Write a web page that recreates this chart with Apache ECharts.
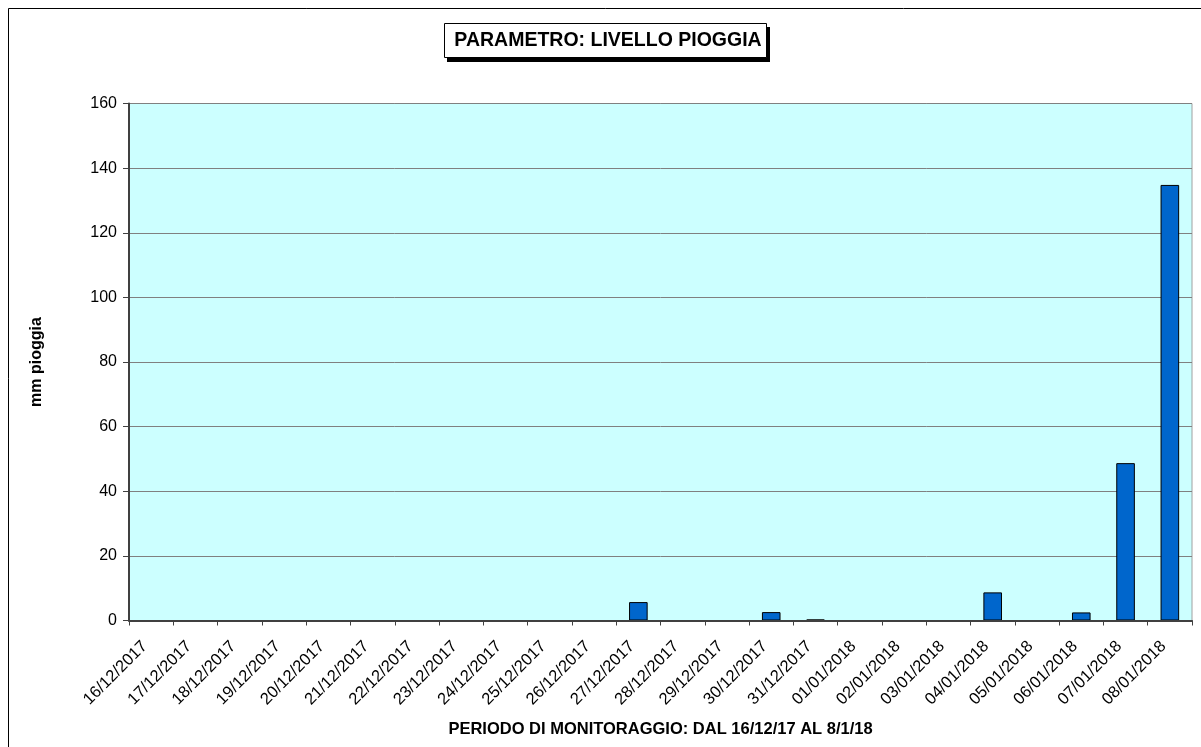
<!DOCTYPE html>
<html>
<head>
<meta charset="utf-8">
<script src="https://cdn.jsdelivr.net/npm/echarts@6/dist/echarts.min.js"></script>
<style>
  html, body { margin: 0; padding: 0; background: #fff; }
  #chart { width: 1201px; height: 747px; }
</style>
</head>
<body>
<div id="chart"></div>
<script>
const days = [
  '16/12/2017', '17/12/2017', '18/12/2017', '19/12/2017', '20/12/2017', '21/12/2017',
  '22/12/2017', '23/12/2017', '24/12/2017', '25/12/2017', '26/12/2017', '27/12/2017',
  '28/12/2017', '29/12/2017', '30/12/2017', '31/12/2017', '01/01/2018', '02/01/2018',
  '03/01/2018', '04/01/2018', '05/01/2018', '06/01/2018', '07/01/2018', '08/01/2018'
];
const rain = [
  0, 0, 0, 0, 0, 0,
  0, 0, 0, 0, 0, 5.7,
  0, 0, 2.6, 0.3, 0, 0,
  0, 8.7, 0, 2.5, 48.7, 134.8
];
const yTicks = { min: 0, max: 160, step: 20 };

const chart = echarts.init(document.getElementById('chart'));
const font = 'Liberation Sans, Arial, sans-serif';

chart.setOption({
  backgroundColor: '#fff',
  animation: false,
  textStyle: { fontFamily: font },
  graphic: [
    // outer frame (right/bottom fall outside the picture)
    { type: 'rect', shape: { x: 8.5, y: 8.5, width: 1300, height: 900 },
      style: { fill: null, stroke: '#000', lineWidth: 1 }, silent: true },
    // title box shadow + box
    { type: 'rect', shape: { x: 447, y: 27, width: 323, height: 35 },
      style: { fill: '#000' }, z: 10 },
    { type: 'rect', shape: { x: 444.5, y: 23.5, width: 322, height: 34 },
      style: { fill: '#fff', stroke: '#000', lineWidth: 1 }, z: 11 },
    { type: 'text', x: 608, y: 41, z: 12,
      style: { text: 'PARAMETRO: LIVELLO PIOGGIA', font: 'bold 19.5px ' + font,
        fill: '#000', align: 'center', verticalAlign: 'middle' } }
  ],
  grid: {
    left: 129, right: 9, top: 103.5, bottom: 126.5,
    show: true, backgroundColor: '#CCFFFF', borderColor: '#a0a0a0', borderWidth: 1
  },
  xAxis: {
    type: 'category',
    data: days,
    z: 5,
    name: 'PERIODO DI MONITORAGGIO: DAL 16/12/17 AL 8/1/18',
    nameLocation: 'middle',
    nameGap: 100,
    nameTextStyle: { fontWeight: 'bold', fontSize: 16.5, color: '#000' },
    axisLine: { lineStyle: { color: '#404040', width: 2 } },
    axisTick: { show: true, length: 5, lineStyle: { color: '#404040' } },
    axisLabel: { rotate: 45, interval: 0, fontSize: 16.5, color: '#000', margin: 17,
      padding: [0, 9, 0, 0] }
  },
  yAxis: {
    type: 'value',
    min: yTicks.min, max: yTicks.max, interval: yTicks.step,
    name: 'mm pioggia',
    nameLocation: 'middle',
    nameGap: 84,
    nameTextStyle: { fontWeight: 'bold', fontSize: 16, color: '#000' },
    axisLine: { show: true, lineStyle: { color: '#404040', width: 2 } },
    axisTick: { show: true, length: 6, lineStyle: { color: '#404040' } },
    axisLabel: { fontSize: 16, color: '#000', margin: 12 },
    splitLine: { lineStyle: { color: '#808080', width: 1 } }
  },
  series: [{
    type: 'bar',
    data: rain,
    barWidth: '42%',
    itemStyle: { color: '#0066CC', borderColor: '#000', borderWidth: 1 }
  }]
});
</script>
</body>
</html>
